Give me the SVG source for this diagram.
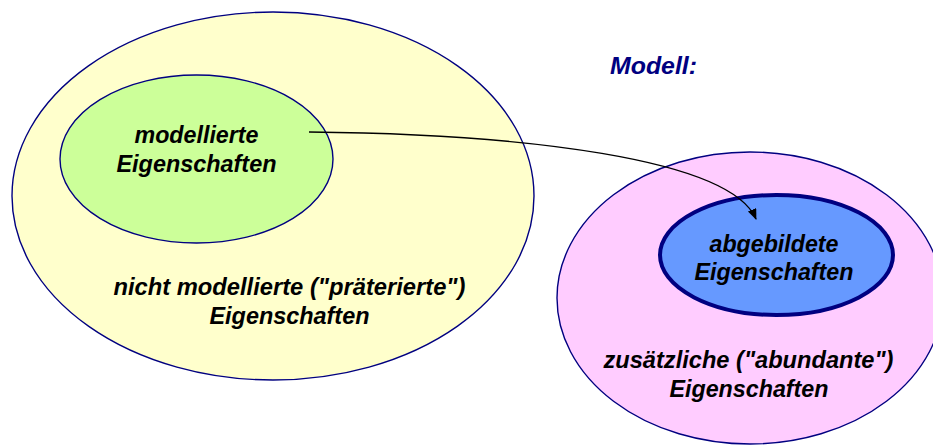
<svg xmlns="http://www.w3.org/2000/svg" width="933" height="446" viewBox="0 0 933 446">
  <style>
    .set { stroke: #000080; stroke-width: 1.4; }
    .lbl { font-family: "Liberation Sans", Arial, sans-serif; font-weight: bold; font-style: italic; font-size: 23px; fill: #000000; text-anchor: middle; }
    .title { fill: #000080; font-size: 24px; }
    .conn { fill: none; stroke: #000000; stroke-width: 1.3; }
  </style>
  <defs>
    <marker id="arrow" markerUnits="userSpaceOnUse" markerWidth="12" markerHeight="10" refX="10" refY="4.5" orient="auto">
      <path d="M0,0 L11,4.5 L0,9 z" fill="#000000"/>
    </marker>
  </defs>
  <rect width="933" height="446" fill="#ffffff"/>

  <!-- original: set of all properties, with the modelled subset inside -->
  <g id="original">
    <ellipse class="set" cx="273" cy="196" rx="261" ry="184" fill="#FFFFCC"/>
    <text class="lbl" x="289.5" y="295" textLength="352" lengthAdjust="spacingAndGlyphs">nicht modellierte ("präterierte")</text>
    <text class="lbl" x="289.5" y="324" textLength="160" lengthAdjust="spacingAndGlyphs">Eigenschaften</text>
  </g>
  <g id="modelled">
    <ellipse class="set" cx="196.5" cy="159" rx="136.5" ry="84" fill="#CCFF99"/>
    <text class="lbl" x="196.5" y="143" textLength="124" lengthAdjust="spacingAndGlyphs">modellierte</text>
    <text class="lbl" x="196.5" y="172" textLength="160" lengthAdjust="spacingAndGlyphs">Eigenschaften</text>
  </g>

  <!-- model: set of its properties, with the mapped subset inside -->
  <g id="model">
    <text class="lbl title" x="653.5" y="74" textLength="87" lengthAdjust="spacingAndGlyphs">Modell:</text>
    <ellipse class="set" cx="750" cy="298" rx="193" ry="146" fill="#FFCCFF"/>
    <text class="lbl" x="748.5" y="368" textLength="290" lengthAdjust="spacingAndGlyphs">zusätzliche ("abundante")</text>
    <text class="lbl" x="749" y="397" textLength="159" lengthAdjust="spacingAndGlyphs">Eigenschaften</text>
  </g>
  <g id="mapped">
    <ellipse cx="776.5" cy="255" rx="116.5" ry="60" fill="#6699FF" stroke="#000080" stroke-width="4"/>
    <text class="lbl" x="774" y="252" textLength="129" lengthAdjust="spacingAndGlyphs">abgebildete</text>
    <text class="lbl" x="774" y="280" textLength="159" lengthAdjust="spacingAndGlyphs">Eigenschaften</text>
  </g>

  <g id="connectors">
    <path class="conn" d="M309,132 C520,134 730,158 756,219" marker-end="url(#arrow)"/>
  </g>
</svg>
